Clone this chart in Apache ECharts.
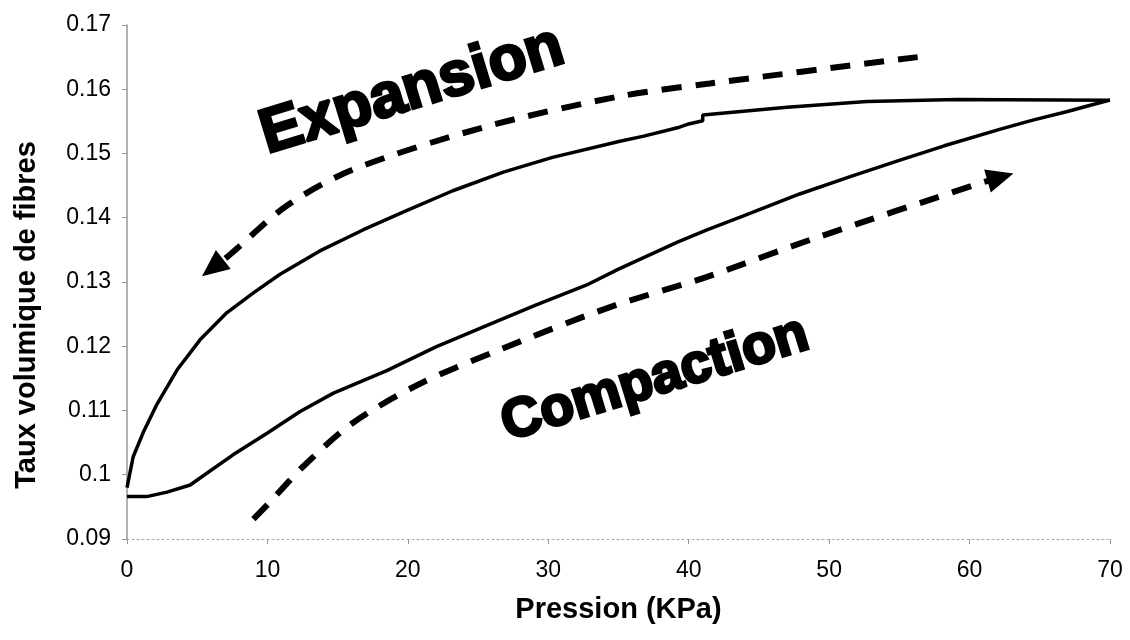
<!DOCTYPE html>
<html>
<head>
<meta charset="utf-8">
<script src="https://cdn.jsdelivr.net/npm/echarts@6/dist/echarts.min.js"></script>
<style>
html,body{margin:0;padding:0;background:#fff;}
#chart{width:1130px;height:640px;}
</style>
</head>
<body>
<div id="chart"></div>
<script>
// Axis ticks
const xTicks = [0, 10, 20, 30, 40, 50, 60, 70];
const yTicks = [0.09, 0.10, 0.11, 0.12, 0.13, 0.14, 0.15, 0.16, 0.17];

// Compaction curve (pressure increasing) [Pression KPa, Taux volumique]
const compaction = [[0,0.0966],[1.4,0.0966],[2.85,0.0973],[4.5,0.0984],[5.2,0.0995],[7.55,0.1031],[10.0,0.1065],[12.3,0.1098],[14.7,0.1127],[18.5,0.1162],[22.0,0.1199],[25.6,0.1232],[29.1,0.1264],[32.7,0.1295],[35.0,0.1320],[39.2,0.1362],[41.3,0.1381],[43.9,0.1403],[47.9,0.1437],[51.5,0.1464],[55.1,0.1490],[58.2,0.1512],[62.2,0.1538],[64.5,0.1552],[66.9,0.1565],[68.6,0.1575],[70,0.1583]];

// Expansion curve (pressure decreasing)
const expansion = [[70,0.1583],[59.1,0.1584],[52.7,0.1581],[47.0,0.1572],[41,0.1560],[41,0.1551],[40,0.1546],[39.2,0.1540],[36.8,0.1527],[35.1,0.1519],[30.3,0.1494],[26.8,0.1471],[23.2,0.1442],[19.9,0.1411],[16.8,0.1381],[13.7,0.1348],[12.3,0.1330],[10.9,0.1312],[9.0,0.1283],[7.1,0.1252],[5.2,0.1210],[3.56,0.1163],[2.14,0.1110],[1.16,0.1066],[0.44,0.1028],[0,0.0980]];

// Dashed annotation arrows (last point = arrowhead)
const expansionArrow = [[56.3,0.1650],[41.5,0.1609],[35.1,0.1589],[25.6,0.1542],[16.1,0.1475],[11.4,0.1419],[7.3,0.1342],[6.1,0.1322]];
const compactionArrow = [[9.0,0.0931],[10.2,0.0958],[12.6,0.1014],[16.1,0.1081],[20.9,0.1142],[26.8,0.1197],[34.4,0.1261],[41.3,0.1308],[48.7,0.1366],[60.5,0.1452],[62.2,0.1463]];

// Annotation labels [x, y, text, size]
const annotations = [[20.3,0.1597,'Expansion',62],[37.6,0.1148,'Compaction',55]];

const chart = echarts.init(document.getElementById('chart'));

function arrowData(pts, rot){
  return pts.map((p,i)=> i===pts.length-1
    ? {value:p, symbol:'triangle', symbolSize:[24,27], symbolRotate:rot, itemStyle:{color:'#000'}}
    : {value:p, symbol:'none'});
}

const option = {
  backgroundColor:'#fff',
  animation:false,
  grid:{left:127, right:20, top:25, bottom:101, containLabel:false},
  xAxis:{
    type:'value', min:xTicks[0], max:xTicks[xTicks.length-1], interval:10,
    name:'Pression (KPa)', nameLocation:'middle', nameGap:56,
    nameTextStyle:{fontFamily:'Liberation Sans, Arial, sans-serif', fontWeight:'bold', fontSize:29, color:'#000'},
    axisLine:{show:true, onZero:false, lineStyle:{color:'#aaa', width:1, type:[2,3]}},
    axisTick:{show:true, length:5, lineStyle:{color:'#999'}},
    axisLabel:{fontFamily:'Liberation Sans, Arial, sans-serif', fontSize:23, color:'#000', margin:20},
    splitLine:{show:false}
  },
  yAxis:{
    type:'value', min:yTicks[0], max:yTicks[yTicks.length-1], interval:0.01,
    name:'Taux volumique de fibres', nameLocation:'middle', nameGap:86, nameRotate:90,
    nameTextStyle:{fontFamily:'Liberation Sans, Arial, sans-serif', fontWeight:'bold', fontSize:29, color:'#000',
      padding:[0,66,0,0]},
    axisLine:{show:true, lineStyle:{color:'#999', width:1.5}},
    axisTick:{show:true, length:5, lineStyle:{color:'#999'}},
    axisLabel:{fontFamily:'Liberation Sans, Arial, sans-serif', fontSize:23, color:'#000', margin:16,
      formatter:(v)=>String(parseFloat(v.toFixed(2)))},
    splitLine:{show:false}
  },
  series:[
    {name:'Compaction', type:'line', data:compaction, showSymbol:false, smooth:false,
      lineStyle:{color:'#000', width:3.5}, z:3},
    {name:'Expansion', type:'line', data:expansion, showSymbol:false, smooth:false,
      lineStyle:{color:'#000', width:3.5}, z:3},
    {name:'arrowExp', type:'line', data:arrowData(expansionArrow,128), showSymbol:true, showAllSymbol:true,
      smooth:0.3, lineStyle:{color:'#000', width:6, type:[20,14]}, itemStyle:{color:'#000'}, z:4},
    {name:'arrowComp', type:'line', data:arrowData(compactionArrow,-74), showSymbol:true, showAllSymbol:true,
      smooth:0.3, lineStyle:{color:'#000', width:6, type:[20,14]}, itemStyle:{color:'#000'}, z:4},
    {name:'labels', type:'scatter', symbolSize:0,
      data:annotations.map(a=>({value:[a[0],a[1]], name:a[2], label:{fontSize:a[3]}})),
      label:{show:true, position:'inside', rotate:17, formatter:'{b}', opacity:1,
        fontFamily:'Liberation Sans, Arial, sans-serif', fontWeight:'bold', color:'#000',
        textBorderColor:'#000', textBorderWidth:3}, z:5}
  ]
};
chart.setOption(option);
</script>
</body>
</html>
